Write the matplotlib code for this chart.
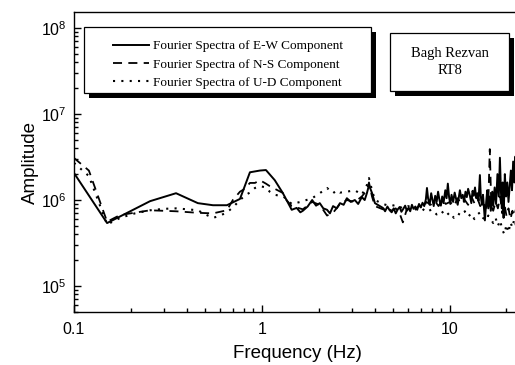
import matplotlib
matplotlib.use("Agg")
import matplotlib.pyplot as plt
from matplotlib import ticker
from matplotlib.patches import Rectangle
from matplotlib.lines import Line2D

plt.rcParams['font.family'] = ['Liberation Sans', 'DejaVu Sans']
plt.rcParams['mathtext.fontset'] = 'custom'
plt.rcParams['mathtext.rm'] = 'Liberation Sans'
plt.rcParams['mathtext.it'] = 'Liberation Sans:italic'

# Fourier spectra, station Bagh Rezvan RT8 (frequency in Hz, amplitude)
f_ew = [0.1, 0.15, 0.254, 0.349, 0.456, 0.549, 0.651, 0.764, 0.863, 0.975, 1.05, 1.17,
        1.29, 1.44, 1.53, 1.60, 1.65, 1.75, 1.85, 1.94, 2.03, 2.12, 2.22, 2.30, 2.39,
        2.50, 2.60, 2.72, 2.83, 2.97, 3.12, 3.25, 3.40, 3.52, 3.62, 3.71, 3.85, 3.99,
        4.20, 4.40, 4.52, 4.65, 4.78, 4.90, 5.02, 5.15, 5.28, 5.40, 5.52, 5.65, 5.78,
        5.90, 6.02, 6.15, 6.28, 6.40, 6.55, 6.70, 6.85, 7.00, 7.15, 7.30, 7.45, 7.55,
        7.65, 7.80, 7.95, 8.05, 8.20, 8.35, 8.50, 8.65, 8.80, 8.95, 9.10, 9.25, 9.45,
        9.60, 9.75, 9.90, 10.05, 10.2, 10.4, 10.6, 10.8, 11.0, 11.3, 11.5, 11.7, 11.9,
        12.1, 12.3, 12.5, 12.8, 13.0, 13.2, 13.4, 13.6, 13.8, 14.0, 14.2, 14.44, 14.6,
        14.8, 15.0, 15.35, 15.6, 15.8, 16.0, 16.3, 16.5, 16.8, 17.0, 17.3, 17.6, 17.9,
        18.2, 18.45, 18.7, 18.9, 19.1, 19.3, 19.6, 19.9, 20.2, 20.5, 20.85, 21.1, 21.4,
        21.7, 22.0, 22.3, 22.6, 23.0]
a_ew = [2.06, 0.54, 0.97, 1.20, 0.92, 0.87, 0.87, 1.03, 2.10, 2.20, 2.23, 1.70,
        1.21, 0.77, 0.81, 0.72, 0.75, 0.84, 1.00, 0.86, 0.92, 0.80, 0.77, 0.70, 0.85,
        0.80, 0.92, 0.88, 1.05, 0.95, 1.00, 0.90, 1.08, 1.00, 1.21, 1.49, 1.21, 0.92,
        0.86, 0.81, 0.74, 0.84, 0.76, 0.72, 0.80, 0.70, 0.78, 0.83, 0.73, 0.79, 0.86,
        0.75, 0.81, 0.74, 0.88, 0.79, 0.84, 0.77, 0.90, 0.82, 0.93, 0.85, 1.02, 1.38,
        1.05, 0.88, 1.20, 1.05, 0.85, 1.12, 0.95, 1.25, 1.00, 0.86, 1.10, 0.92, 1.30,
        1.05, 1.55, 1.08, 0.90, 1.15, 0.95, 1.22, 1.02, 0.88, 1.30, 1.05, 1.15, 0.95,
        1.25, 1.08, 1.35, 1.10, 0.92, 1.28, 1.12, 1.40, 1.05, 1.20, 0.98, 1.95, 1.10,
        0.88, 1.15, 0.58, 0.95, 1.30, 0.80, 1.10, 0.75, 1.25, 0.85, 1.40, 0.90, 2.00,
        1.10, 3.10, 1.20, 0.80, 1.60, 0.62, 2.00, 1.10, 1.60, 0.95, 1.55, 2.20, 1.30,
        2.80, 1.60, 3.20, 1.40, 1.90]

f_ns = [0.1, 0.12, 0.15, 0.176, 0.254, 0.349, 0.456, 0.549, 0.651, 0.70, 0.764, 0.81,
        0.863, 0.918, 0.975, 1.05, 1.10, 1.17, 1.29, 1.35, 1.44, 1.53, 1.65, 1.85,
        2.03, 2.22, 2.40, 2.60, 2.83, 3.12, 3.40, 3.62, 3.71, 3.85, 3.99, 4.40, 4.65,
        4.90, 5.15, 5.40, 5.62, 5.90, 6.20, 6.50, 6.85, 7.20, 7.50, 7.90, 8.30, 8.70,
        9.10, 9.50, 10.0, 10.5, 11.0, 11.5, 12.0, 12.5, 13.0, 13.5, 14.0, 14.5, 15.0,
        15.5, 16.0, 16.3, 16.6, 17.0, 17.5, 18.0, 18.5, 19.0, 19.5, 20.0, 20.5, 21.0,
        21.5, 22.0, 22.5, 23.0]
a_ns = [3.08, 2.20, 0.56, 0.67, 0.76, 0.74, 0.71, 0.70, 0.76, 1.00, 1.25, 1.35,
        1.58, 1.58, 1.70, 1.55, 1.45, 1.35, 1.21, 1.00, 0.85, 0.82, 0.78, 0.95,
        0.88, 0.66, 0.72, 0.90, 1.00, 0.95, 1.10, 1.30, 1.60, 1.10, 0.85, 0.78, 0.82,
        0.75, 0.80, 0.70, 0.55, 0.78, 0.82, 0.76, 0.86, 0.80, 0.95, 0.88, 0.98, 0.85,
        1.00, 0.90, 0.95, 0.85, 1.05, 0.90, 1.00, 0.88, 1.10, 0.92, 1.05, 0.85, 0.95,
        0.80, 0.90, 3.90, 0.85, 0.75, 0.95, 0.80, 1.10, 0.70, 0.90, 0.65, 0.80, 0.60,
        0.75, 0.65, 0.80, 0.70]

f_ud = [0.1, 0.12, 0.15, 0.176, 0.211, 0.254, 0.30, 0.349, 0.40, 0.456, 0.50, 0.549,
        0.60, 0.651, 0.70, 0.764, 0.82, 0.863, 0.918, 0.975, 1.05, 1.10, 1.17, 1.30,
        1.44, 1.60, 1.85, 2.03, 2.22, 2.39, 2.50, 2.60, 2.83, 3.12, 3.40, 3.62, 3.71,
        3.85, 3.99, 4.40, 4.80, 5.20, 5.60, 6.00, 6.50, 7.00, 7.50, 8.00, 8.50, 9.00,
        9.50, 10.0, 10.5, 11.0, 11.5, 12.0, 12.5, 13.0, 13.5, 14.0, 14.5, 15.0, 15.5,
        16.0, 16.5, 17.0, 17.5, 18.0, 18.5, 19.0, 19.5, 20.0, 20.5, 21.0, 21.5, 22.0,
        22.5, 23.0]
a_ud = [2.70, 1.90, 0.52, 0.62, 0.70, 0.76, 0.79, 0.80, 0.78, 0.76, 0.68, 0.62,
        0.66, 0.72, 0.82, 1.00, 1.15, 1.22, 1.38, 1.45, 1.40, 1.25, 1.15, 1.10,
        0.90, 0.95, 1.05, 1.20, 1.38, 1.20, 1.30, 1.22, 1.25, 1.30, 1.15, 1.50, 1.80,
        1.30, 1.00, 0.90, 0.85, 0.88, 0.80, 0.85, 0.78, 0.82, 0.72, 0.78, 0.68, 0.75,
        0.65, 0.72, 0.62, 0.70, 0.66, 0.74, 0.64, 0.70, 0.60, 0.68, 0.72, 0.62, 0.58,
        0.66, 0.60, 0.54, 0.62, 0.50, 0.58, 0.45, 0.40, 0.52, 0.42, 0.55, 0.48, 0.60,
        0.50, 0.55]

labels = ['Fourier Spectra of E-W Component',
          'Fourier Spectra of N-S Component',
          'Fourier Spectra of U-D Component']

W, H = 515, 365
fig = plt.figure(figsize=(W / 100, H / 100), dpi=100)
# axes box in pixels: left 74, right past the edge, top 12, bottom 312
ax = fig.add_axes([74 / W, (H - 312) / H, (520 - 74) / W, 300 / H])

solid = dict(color='black', lw=1.4, ls='-')
dashed = dict(color='black', lw=1.3, ls=(0, (5, 3.5)))
dotted = dict(color='black', lw=1.5, ls=(0, (1, 3)))

sc = 1e6
ax.plot(f_ew, [a * sc for a in a_ew], **solid)
ax.plot(f_ns, [a * sc for a in a_ns], **dashed)
ax.plot(f_ud, [a * sc for a in a_ud], **dotted)

ax.set_xscale('log')
ax.set_yscale('log')
ax.set_xlim(0.1, 23.6)
ax.set_ylim(5e4, 1.53e8)

ax.xaxis.set_major_formatter(ticker.FuncFormatter(lambda v, p: f'{v:g}'))
ax.xaxis.set_minor_formatter(ticker.NullFormatter())
ax.tick_params(which='both', direction='in', top=False, right=False, width=1)
ax.tick_params(which='major', length=5, labelsize=11.5)
ax.tick_params(axis='x', which='major', pad=7)
ax.tick_params(axis='y', which='major', pad=5)
ax.tick_params(which='minor', length=3)
for s in ax.spines.values():
    s.set_linewidth(1.0)
ax.spines['right'].set_visible(False)

ax.set_xlabel('Frequency (Hz)', fontsize=13.5, labelpad=6)
ax.set_ylabel('Amplitude', fontsize=13.5, labelpad=2)

serif = ['Liberation Serif', 'DejaVu Serif']

def boxed(x0, y0, x1, y1, off=5):
    # white box with a solid black drop shadow, pixel coordinates from top-left
    fig.add_artist(Rectangle(((x0 + off) / W, (H - y1 - off) / H), (x1 - x0) / W,
                             (y1 - y0) / H, transform=fig.transFigure,
                             facecolor='black', edgecolor='black', lw=0))
    fig.add_artist(Rectangle((x0 / W, (H - y1) / H), (x1 - x0) / W, (y1 - y0) / H,
                             transform=fig.transFigure, facecolor='white',
                             edgecolor='black', lw=0.9))

boxed(84, 27, 371, 93)
handles = [Line2D([], [], **solid), Line2D([], [], **dashed), Line2D([], [], **dotted)]
leg = fig.legend(handles, labels, loc='upper left',
                 bbox_to_anchor=(104 / W, (H - 31) / H), frameon=False,
                 prop={'family': serif, 'size': 9.5}, handlelength=2.7,
                 handletextpad=0.3, labelspacing=0.45, borderpad=0.2)

boxed(390, 33, 509, 91)
fig.text(450 / W, (H - 62) / H, 'Bagh Rezvan\nRT8', ha='center', va='center',
         family=serif, fontsize=10.5, linespacing=1.5)

fig.savefig('out.png', dpi=100)
